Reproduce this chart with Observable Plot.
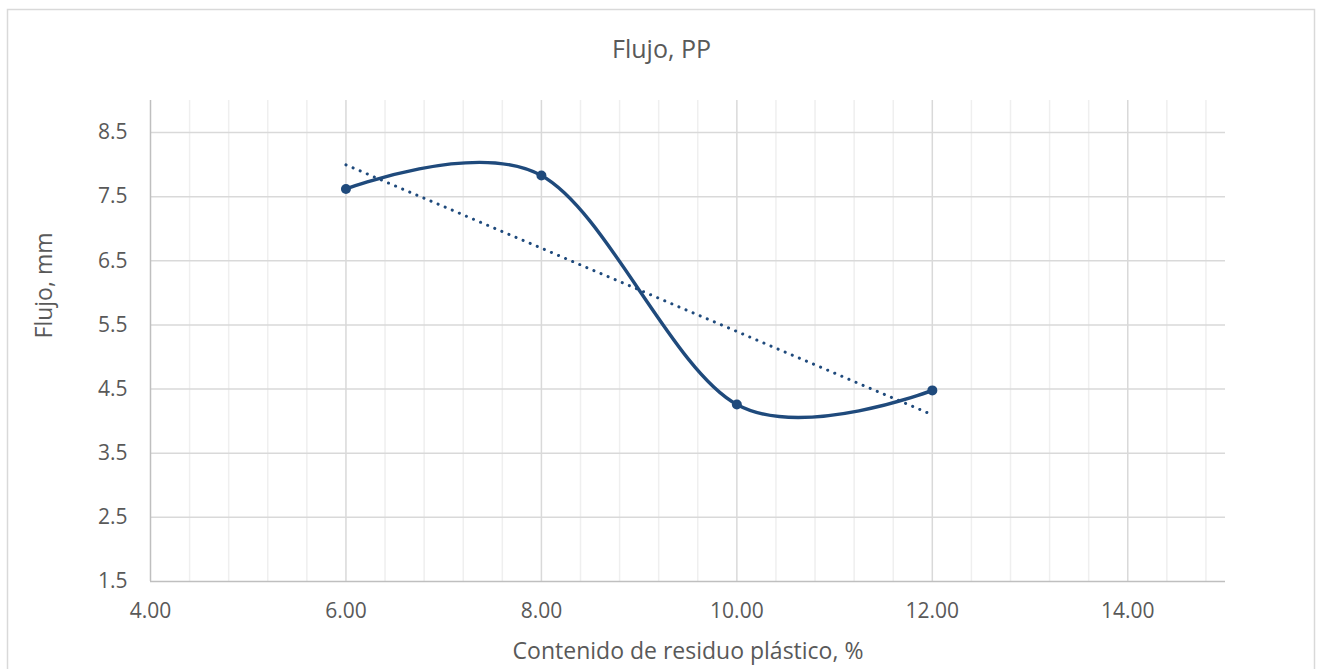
<!DOCTYPE html>
<html>
<head>
<meta charset="utf-8">
<script src="https://cdn.jsdelivr.net/npm/d3@7"></script>
<script src="https://cdn.jsdelivr.net/npm/@observablehq/plot@0.6"></script>
<style>
  html, body { margin: 0; padding: 0; background: #fff; }
  #chart { width: 1322px; height: 669px; }
</style>
</head>
<body>
<div id="chart"></div>
<script>
// ---- Data ----
const contenido = [6, 8, 10, 12];           // % residuo plástico
const flujo = [7.62, 7.83, 4.26, 4.48];     // mm

// ---- Axis ticks ----
const xTicks = [4, 6, 8, 10, 12, 14];
const xMinorTicks = [4.4, 4.8, 5.2, 5.6, 6.4, 6.8, 7.2, 7.6, 8.4, 8.8, 9.2, 9.6,
                     10.4, 10.8, 11.2, 11.6, 12.4, 12.8, 13.2, 13.6, 14.4, 14.8];
const yTicks = [1.5, 2.5, 3.5, 4.5, 5.5, 6.5, 7.5, 8.5];

// ---- Texts ----
const chartTitle = "Flujo, PP";
const xTitle = "Contenido de residuo plástico, %";
const yTitle = "Flujo, mm";

const data = contenido.map((x, i) => ({x, y: flujo[i]}));
const blue = "#1f4a7c";
const textColor = "#595959";
const font = "Open Sans";

const plot = Plot.plot({
  width: 1322,
  height: 669,
  marginLeft: 150,
  marginRight: 97,
  marginTop: 100,
  marginBottom: 88,
  style: {fontFamily: font, color: textColor, background: "white", overflow: "visible"},
  x: {domain: [4, 15]},
  y: {domain: [1.5, 9]},
  marks: [
    Plot.ruleX(xMinorTicks, {stroke: "#efefef", strokeWidth: 1.5}),
    Plot.ruleX(xTicks.slice(1), {stroke: "#d9d9d9", strokeWidth: 1.5}),
    Plot.ruleY(yTicks.slice(1), {stroke: "#d9d9d9", strokeWidth: 1.5}),
    Plot.ruleX([4], {stroke: "#bfbfbf", strokeWidth: 1.5}),
    Plot.ruleY([1.5], {stroke: "#bfbfbf", strokeWidth: 1.5}),
    Plot.axisX({ticks: xTicks, tickFormat: d => d.toFixed(2), tickSize: 0, tickPadding: 22,
                fontSize: 21, label: null}),
    Plot.axisY({ticks: yTicks, tickFormat: d => d.toFixed(1), tickSize: 0, tickPadding: 23,
                fontSize: 21, label: null}),
    Plot.linearRegressionY(data, {x: "x", y: "y", ci: 0, stroke: blue, strokeWidth: 3,
                strokeDasharray: "0.1,7.6", strokeLinecap: "round"}),
    Plot.line(data, {x: "x", y: "y", curve: "cardinal", stroke: blue, strokeWidth: 3.4}),
    Plot.dot(data, {x: "x", y: "y", r: 5, fill: blue}),
    Plot.text([chartTitle], {frameAnchor: "top", lineAnchor: "bottom", dy: -43, dx: -26.5,
                fontSize: 25, fill: textColor}),
    Plot.text([xTitle], {frameAnchor: "bottom", lineAnchor: "bottom", dy: 77,
                fontSize: 23, fill: textColor})
  ]
});

const svg = d3.select(plot);
// outer chart border (like the spreadsheet chart area)
svg.insert("rect", ":first-child")
  .attr("x", 7.5).attr("y", 9.5).attr("width", 1307).attr("height", 680)
  .attr("fill", "none").attr("stroke", "#d9d9d9").attr("stroke-width", 1.5);
// vertical axis title
svg.append("text")
  .attr("transform", "translate(52,285.5) rotate(-90)")
  .attr("text-anchor", "middle")
  .attr("font-family", font)
  .attr("font-size", 23)
  .attr("fill", textColor)
  .text(yTitle);

document.getElementById("chart").appendChild(plot);
</script>
</body>
</html>
